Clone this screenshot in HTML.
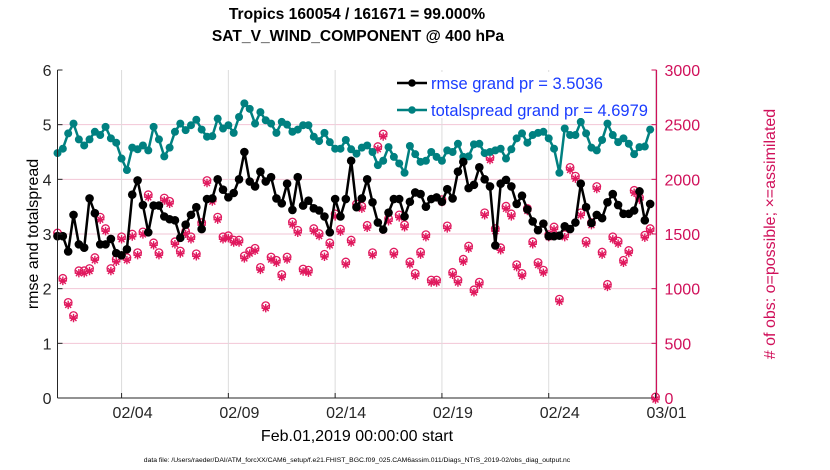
<!DOCTYPE html>
<html><head><meta charset="utf-8"><style>
html,body{margin:0;padding:0;background:#fff;}
svg{display:block;font-family:"Liberation Sans",sans-serif;}
</style></head><body>
<svg id="chart" width="830" height="470" viewBox="0 0 830 470">
<g id="grid"></g>
<g id="marks"></g>
<g id="axes"></g>
<text x="357" y="19" text-anchor="middle" font-size="15.6" font-weight="bold">Tropics 160054 / 161671 = 99.000%</text>
<text x="358" y="41" text-anchor="middle" font-size="15.6" font-weight="bold">SAT_V_WIND_COMPONENT @ 400 hPa</text>
<text transform="translate(38,234) rotate(-90)" text-anchor="middle" font-size="16">rmse and totalspread</text>
<text transform="translate(775,234) rotate(-90)" text-anchor="middle" font-size="16" fill="#d0105a"># of obs: o=possible; ×=assimilated</text>
<text x="357" y="441" text-anchor="middle" font-size="16">Feb.01,2019 00:00:00 start</text>
<text x="357" y="462" text-anchor="middle" font-size="6.8">data file: /Users/raeder/DAI/ATM_forcXX/CAM6_setup/f.e21.FHIST_BGC.f09_025.CAM6assim.011/Diags_NTrS_2019-02/obs_diag_output.nc</text>
<g>
<rect x="390" y="72" width="262" height="46" fill="#fff"/>
<g>
<line x1="397" y1="83" x2="427" y2="83" stroke="#000" stroke-width="2.5"/><circle cx="412" cy="83" r="3.8" fill="#000"/>
<text x="431" y="89" font-size="16.5" fill="#1a3cff">rmse grand pr = 3.5036</text></g>
<g>
<line x1="397" y1="110" x2="427" y2="110" stroke="#008080" stroke-width="2.5"/><circle cx="412" cy="110" r="3.8" fill="#008080"/>
<text x="431" y="116" font-size="16.5" fill="#1a3cff">totalspread grand pr = 4.6979</text></g>
</g>
</svg>
<script>
const rmse=[2.96,2.96,2.68,3.35,2.81,2.75,3.65,3.38,2.81,2.81,2.91,2.65,2.61,2.72,3.72,3.98,3.53,3.03,3.52,3.52,3.32,3.27,3.25,2.93,3.17,3.35,3.49,3.09,3.64,3.65,4.0,3.81,3.67,3.75,4.0,4.50,3.96,3.87,4.14,
3.96,4.04,3.65,3.56,3.92,3.44,4.04,3.52,3.61,3.47,3.43,3.32,3.03,3.64,3.32,3.64,4.34,3.49,3.65,4.0,3.58,3.21,3.08,3.39,3.64,3.64,3.32,3.59,3.76,3.73,3.50,3.64,3.67,3.59,3.82,3.65,4.14,
4.32,3.84,3.90,4.22,4.0,3.87,2.79,3.92,3.99,3.87,3.55,3.70,3.45,3.23,3.07,3.19,2.96,2.96,2.97,3.14,3.09,3.21,3.92,3.49,3.20,3.35,3.29,3.58,3.73,3.53,3.37,3.37,3.43,3.78,3.25,3.55];
const spread=[4.48,4.56,4.84,5.02,4.73,4.62,4.73,4.87,4.81,4.96,4.75,4.67,4.38,4.17,4.58,4.55,4.62,4.53,4.96,4.73,4.42,4.58,4.87,5.02,4.90,4.99,5.09,4.91,4.78,4.79,5.11,4.93,4.99,4.85,5.14,5.39,5.29,5.02,5.23,
5.08,5.02,4.85,5.05,5.0,4.87,4.91,4.99,4.99,4.78,4.70,4.85,4.68,4.56,4.56,4.72,4.55,4.47,4.58,4.62,4.50,4.26,4.34,4.59,4.41,4.29,4.12,4.61,4.46,4.32,4.34,4.50,4.41,4.34,4.53,4.50,4.65,
4.41,4.42,4.64,4.65,4.48,4.50,4.53,4.56,4.38,4.55,4.75,4.84,4.67,4.81,4.85,4.87,4.75,4.56,4.12,4.93,4.81,4.81,5.05,4.84,4.58,4.53,4.72,5.02,4.81,4.68,4.75,4.65,4.46,4.59,4.60,4.91];
const nobs=[1500,1085,865,745,1155,1155,1175,1275,1645,1540,1175,1260,1465,1275,1490,1320,1510,1850,1410,1320,1820,1790,1420,1335,1515,1465,1310,1595,1980,1810,1645,1465,1475,1435,1435,1290,1335,1360,1185,
835,1280,1250,1120,1280,1600,1525,1170,1160,1540,1495,1305,1410,1675,1535,1235,1435,1765,1745,1570,1320,2290,2405,1630,1325,1665,1575,1235,1130,1325,1485,1070,1070,1805,1565,1140,1070,
1260,1380,980,1050,1685,2190,1540,1365,1745,1675,1210,1130,1725,1420,1230,1160,1485,1555,895,1485,2100,2020,1685,1425,1595,1925,1325,1030,1465,1425,1250,1340,1890,1825,1480,1540,0];
const xTicks=["02/04","02/09","02/14","02/19","02/24","03/01"];
const xTickDays=[3,8,13,18,23,28];
const yTicks=[0,1,2,3,4,5,6];
const y2Ticks=[0,500,1000,1500,2000,2500,3000];
const NS="http://www.w3.org/2000/svg";
const L=57.5,R=656.5,T=70,B=398;
function xd(d){return L+d*(R-L-1)/28;}
function xi(i){return xd(i/4);}
function yl(v){return B-v*(B-T)/6;}
function yr(v){return B-v*(B-T)/3000;}
function mk(tag,attrs,parent){const e=document.createElementNS(NS,tag);for(const k in attrs)e.setAttribute(k,attrs[k]);parent.appendChild(e);return e;}
const grid=document.getElementById('grid'),marks=document.getElementById('marks'),axes=document.getElementById('axes');
yTicks.forEach(v=>{if(v>0&&v<6){const g=mk('line',{x1:L,x2:R,y1:yl(v),y2:yl(v),stroke:'#f2c6d6','stroke-width':1},grid);

}});
xTickDays.forEach(d=>{const g=mk('line',{x1:xd(d),x2:xd(d),y1:T,y2:B,stroke:'#dcdcdc','stroke-width':1},grid);

});
function star(x,y,r,col,w,parent){const p=[];for(let a=0;a<4;a++){const t=a*Math.PI/4;p.push(`M${x-r*Math.cos(t)},${y-r*Math.sin(t)}L${x+r*Math.cos(t)},${y+r*Math.sin(t)}`);}
return mk('path',{d:p.join(''),stroke:col,'stroke-width':w},parent);}
nobs.forEach((n,i)=>{const x=xi(i),y=yr(n);
const g=mk('g',{},marks);


mk('circle',{cx:x,cy:y-1,r:3.8,fill:'none',stroke:'#e0195e','stroke-width':1.3},g);
star(x,y+1.5,4.2,'#e0195e',1.4,g);});
function series(arr,col,name,r){const d=arr.map((v,i)=>(i?'L':'M')+xi(i).toFixed(1)+','+yl(v).toFixed(1)).join('');
const g=mk('g',{},marks);


mk('path',{d:d,fill:'none',stroke:col,'stroke-width':2.5,'stroke-linejoin':'round'},g);
arr.forEach((v,i)=>{const c=mk('circle',{cx:xi(i),cy:yl(v),r:r,fill:col},g);

});}
series(spread,'#008080','totalspread-series',4);
series(rmse,'#000','rmse-series',4.3);
mk('line',{x1:L,x2:L,y1:T,y2:B,stroke:'#262626','stroke-width':1},axes);
mk('line',{x1:L,x2:R,y1:B,y2:B,stroke:'#262626','stroke-width':1},axes);
mk('line',{x1:R,x2:R,y1:T,y2:B,stroke:'#d0105a','stroke-width':1.2},axes);
yTicks.forEach(v=>{mk('line',{x1:L,x2:L+5,y1:yl(v),y2:yl(v),stroke:'#262626'},axes);
const t=mk('text',{x:L-6,y:yl(v)+6,'text-anchor':'end','font-size':16,fill:'#262626'},axes);t.textContent=v;

});
y2Ticks.forEach(v=>{mk('line',{x1:R-5,x2:R,y1:yr(v),y2:yr(v),stroke:'#d0105a'},axes);
const t=mk('text',{x:R+8,y:yr(v)+6,'font-size':16,fill:'#d0105a'},axes);t.textContent=v;

});
xTickDays.forEach((d,k)=>{mk('line',{x1:xd(d),x2:xd(d),y1:B,y2:B-5,stroke:'#262626'},axes);
const t=mk('text',{x:xd(d)+11,y:B+20,'text-anchor':'middle','font-size':16,fill:'#262626'},axes);t.textContent=xTicks[k];

});
</script>
</body></html>
